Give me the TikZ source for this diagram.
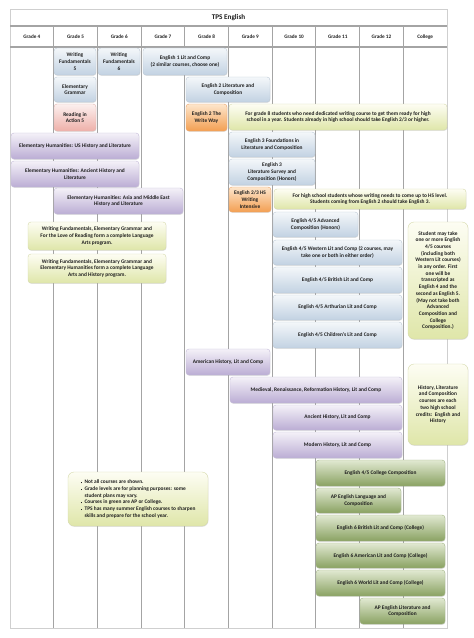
\documentclass[tikz,border=0pt]{standalone}
\usepackage{fontspec}
\setmainfont{Carlito}
\usetikzlibrary{shadows}
\definecolor{txt}{HTML}{1E1E1E}
\definecolor{gridc}{HTML}{A4A4A4}
\definecolor{framec}{HTML}{CFCFCF}
\definecolor{blueT}{HTML}{F4F7FA}
\definecolor{blueB}{HTML}{C2D2E2}
\definecolor{blueE}{HTML}{BCC9D6}
\definecolor{pinkT}{HTML}{FCF0EF}
\definecolor{pinkB}{HTML}{EEB0A9}
\definecolor{pinkE}{HTML}{E2B4AE}
\definecolor{orangeT}{HTML}{FDE6CC}
\definecolor{orangeB}{HTML}{F39F52}
\definecolor{orangeE}{HTML}{EDA468}
\definecolor{yellowT}{HTML}{FDFDF3}
\definecolor{yellowB}{HTML}{DFE6A9}
\definecolor{yellowE}{HTML}{D6DAAC}
\definecolor{purpleT}{HTML}{F4F1F8}
\definecolor{purpleB}{HTML}{BBADD4}
\definecolor{purpleE}{HTML}{C4BAD8}
\definecolor{greenT}{HTML}{E1E9D2}
\definecolor{greenB}{HTML}{8AA262}
\definecolor{greenE}{HTML}{A2B486}
\tikzset{
  crs/.style={rounded corners=3pt, inner sep=0pt, align=center,
    font=\fontsize{5.4}{6.7}\selectfont\bfseries, text=txt, line width=0.4pt,
    drop shadow={shadow xshift=0.4pt, shadow yshift=-0.8pt, opacity=0.22}},
  bluebox/.style={crs, draw=blueE, top color=blueT, bottom color=blueB},
  pinkbox/.style={crs, draw=pinkE, top color=pinkT, bottom color=pinkB},
  orangebox/.style={crs, draw=orangeE, top color=orangeT, bottom color=orangeB},
  yellowbox/.style={crs, draw=yellowE, top color=yellowT, bottom color=yellowB},
  notebox/.style={yellowbox, rounded corners=6pt},
  purplebox/.style={crs, draw=purpleE, top color=purpleT, bottom color=purpleB},
  greenbox/.style={crs, draw=greenE, top color=greenT, bottom color=greenB},
  gridline/.style={draw=gridc, line width=1.1pt},
  framel/.style={draw=framec, line width=0.6pt},
  hdr/.style={font=\fontsize{5.2}{6}\selectfont\bfseries, text=txt, inner sep=0pt},
  ttl/.style={font=\fontsize{7.2}{8}\selectfont\bfseries, text=txt, inner sep=0pt}
}
\newcommand\bx[7]{%
  \pgfmathsetmacro\bxw{#5-#3}\pgfmathsetmacro\bxh{#6-#4}%
  \pgfmathsetmacro\bxcx{(#3+#5)/2}\pgfmathsetmacro\bxcy{(#4+#6)/2}%
  \node[#1, minimum width=\bxw pt, minimum height=\bxh pt] (#2) at (\bxcx,\bxcy) {#7};}
\newcommand\blt{\makebox[4pt][l]{\rule[0.4pt]{1.5pt}{1.5pt}}}
\begin{document}
\begin{tikzpicture}[x=1pt,y=-1pt]
\useasboundingbox[fill=white] (0,0) rectangle (474,638);
% frame and grid
\draw[framel] (10,9) rectangle (447,628);
\foreach \cx in {53.7,97.4,141.1,184.8,228.5,272.2,315.9,359.6,403.3}
  \draw[gridline] (\cx,26) -- (\cx,628);
\draw[gridline] (10,26) -- (447,26);
\draw[gridline] (10,47) -- (447,47);
\node[ttl] (title) at (228.5,17.5) {TPS English};
\foreach \lab [count=\i] in {Grade 4,Grade 5,Grade 6,Grade 7,Grade 8,Grade 9,Grade 10,Grade 11,Grade 12,College}
  \node[hdr] (h\i) at ({10+43.7*(\i-0.5)},37) {\lab};
% courses
\bx{bluebox}{wf5}{54}{48}{96}{75}{Writing\\Fundamentals\\5}
\bx{bluebox}{wf6}{98}{48}{140}{75}{Writing\\Fundamentals\\6}
\bx{bluebox}{e1}{143}{48}{227}{75}{English 1 Lit and Comp\\(2 similar courses, choose one)}
\bx{bluebox}{eg}{54}{77}{96}{102}{Elementary\\Grammar}
\bx{bluebox}{e2}{186}{77}{270}{102}{English 2 Literature and\\Composition}
\bx{pinkbox}{ra5}{54}{104}{96}{131}{Reading in\\Action 5}
\bx{orangebox}{e2w}{186}{104}{227}{131}{English 2 The\\Write Way}
\bx{yellowbox}{n8}{229}{104}{447}{130}{For grade 8 students who need dedicated writing course to get them ready for high\\school in a year. Students already in high school should take English 2/3 or higher.}
\bx{purplebox}{ehus}{11}{133}{139}{159}{Elementary Humanities: US History and Literature}
\bx{bluebox}{e3f}{229}{132}{315}{157}{English 3 Foundations in\\Literature and Composition}
\bx{purplebox}{ehanc}{11}{161}{139}{187}{Elementary Humanities: Ancient History and\\Literature}
\bx{bluebox}{e3h}{229}{159}{315}{185}{English 3\\Literature Survey and\\Composition (Honors)}
\bx{purplebox}{ehasia}{54}{188}{183}{214}{Elementary Humanities: Asia and Middle East\\History and Literature}
\bx{orangebox}{e23}{229}{187}{271}{212}{English 2/3 HS\\Writing\\Intensive}
\bx{yellowbox}{nhs}{274}{189}{466}{209}{For high school students whose writing needs to come up to HS level.\\Students coming from English 2 should take English 3.}
\bx{bluebox}{e45ac}{273}{212}{358}{237}{English 4/5 Advanced\\Composition (Honors)}
\bx{yellowbox}{nla}{28}{222}{166}{250}{Writing Fundamentals, Elementary Grammar and\\For the Love of Reading form a complete Language\\Arts program.}
\bx{yellowbox}{nlah}{28}{254}{166}{283}{Writing Fundamentals, Elementary Grammar and\\Elementary Humanities form a complete Language\\Arts and History program.}
\bx{notebox}{nstu}{408}{222}{468}{339}{Student may take\\one or more English\\4/5 courses\\(including both\\Western Lit courses)\\in any order. First\\one will be\\transcripted as\\English 4 and the\\second as English 5.\\(May not take both\\Advanced\\Composition and\\College\\Composition.)}
\bx{bluebox}{e45w}{273}{240}{402}{265}{English 4/5 Western Lit and Comp (2 courses, may\\take one or both in either order)}
\bx{bluebox}{e45b}{273}{267}{402}{293}{English 4/5 British Lit and Comp}
\bx{bluebox}{e45ar}{273}{295}{402}{320}{English 4/5 Arthurian Lit and Comp}
\bx{bluebox}{e45c}{273}{322}{402}{348}{English 4/5 Children's Lit and Comp}
\bx{purplebox}{amh}{186}{349}{270}{375}{American History, Lit and Comp}
\bx{notebox}{nhist}{408}{364}{468}{445}{History, Literature\\and Composition\\courses are each\\two high school\\credits:\ \ English and\\History}
\bx{purplebox}{med}{230}{377}{402}{403}{Medieval, Renaissance, Reformation History, Lit and Comp}
\bx{purplebox}{anc}{273}{405}{402}{430}{Ancient History, Lit and Comp}
\bx{purplebox}{mod}{273}{432}{402}{458}{Modern History, Lit and Comp}
\bx{greenbox}{cc}{316}{460}{445}{486}{English 4/5 College Composition}
\bx{greenbox}{aplang}{316}{488}{401}{513}{AP English Language and\\Composition}
\bx{greenbox}{e6b}{316}{515}{445}{541}{English 6 British Lit and Comp (College)}
\bx{greenbox}{e6a}{316}{543}{445}{568}{English 6 American Lit and Comp (College)}
\bx{greenbox}{e6w}{316}{570}{445}{596}{English 6 World Lit and Comp (College)}
\bx{greenbox}{aplit}{360}{598}{445}{624}{AP English Literature and\\Composition}
\node[notebox, align=left, minimum width=140pt, minimum height=54pt] (notes) at (138,499)
  {\blt Not all courses are shown.\\
   \blt Grade levels are for planning purposes: some\\
   \hspace*{4pt}student plans may vary.\\
   \blt Courses in green are AP or College.\\
   \blt TPS has many summer English courses to sharpen\\
   \hspace*{4pt}skills and prepare for the school year.};
\end{tikzpicture}
\end{document}
